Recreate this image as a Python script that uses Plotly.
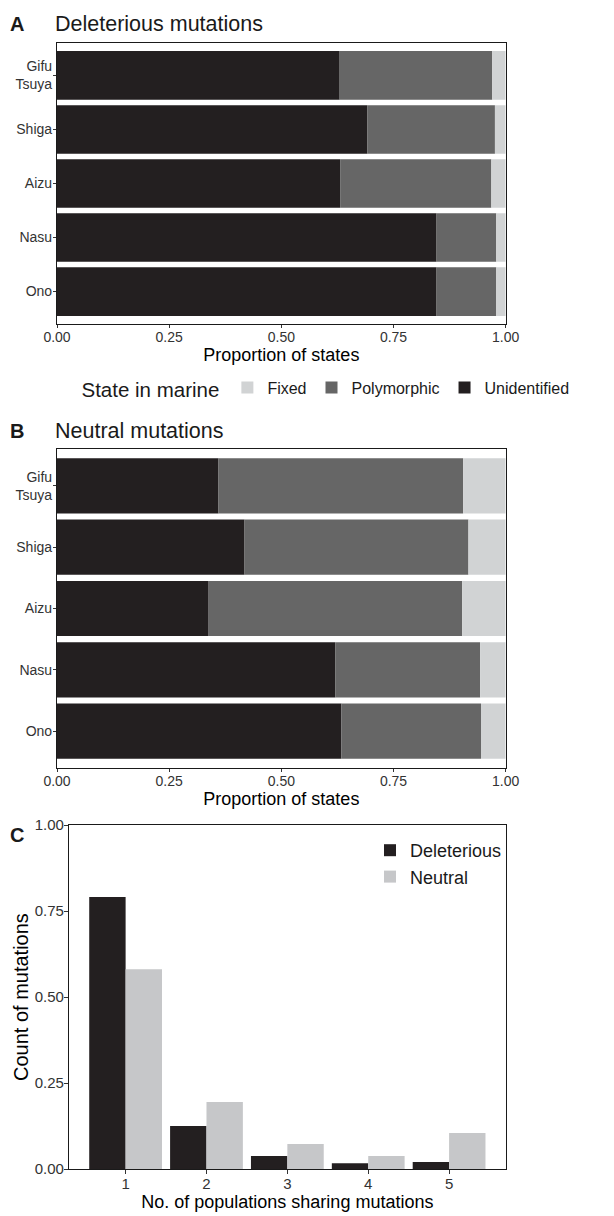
import numpy as np
import plotly.graph_objects as go

# Populations (top to bottom) and the state of each derived allele in the marine population
populations = ["Gifu<br>Tsuya", "Shiga", "Aizu", "Nasu", "Ono"]
states = ["Unidentified", "Polymorphic", "Fixed"]

# Proportion of deleterious mutations by state in marine
del_unidentified = [0.630, 0.692, 0.631, 0.846, 0.846]
del_polymorphic = [0.340, 0.284, 0.337, 0.133, 0.133]
del_fixed = [0.030, 0.024, 0.032, 0.021, 0.021]

# Proportion of neutral mutations by state in marine
neu_unidentified = [0.360, 0.418, 0.338, 0.620, 0.634]
neu_polymorphic = [0.545, 0.499, 0.565, 0.323, 0.311]
neu_fixed = [0.095, 0.083, 0.097, 0.057, 0.055]

# Sharing of mutations among populations
n_sharing = [1, 2, 3, 4, 5]
share_deleterious = [0.791, 0.125, 0.038, 0.017, 0.020]
share_neutral = [0.581, 0.195, 0.073, 0.038, 0.105]

prop_ticks = [0, 0.25, 0.5, 0.75, 1.0]
prop_ticktext = ["0.00", "0.25", "0.50", "0.75", "1.00"]

COL = {"Unidentified": "#231F20", "Polymorphic": "#666666", "Fixed": "#D1D3D4"}
NEUTRAL_COL = "#C6C7C9"
FONT = "Liberation Sans, Arial, sans-serif"
W, H = 614, 1216

fig = go.Figure()


def add_stacked(xaxis, yaxis, unident, poly, fixed, show_legend):
    vals = {"Unidentified": np.array(unident), "Polymorphic": np.array(poly),
            "Fixed": np.array(fixed)}
    base = np.zeros(len(populations))
    ranks = {"Fixed": 1, "Polymorphic": 2, "Unidentified": 3}
    for s in states:
        fig.add_trace(go.Bar(
            y=populations, x=vals[s], base=base.copy(), orientation="h",
            width=0.9, name=s, marker=dict(color=COL[s], line=dict(width=0)),
            xaxis=xaxis, yaxis=yaxis, showlegend=show_legend,
            legend="legend", legendrank=ranks[s], hoverinfo="skip"))
        base = base + vals[s]


add_stacked("x", "y", del_unidentified, del_polymorphic, del_fixed, True)
add_stacked("x2", "y2", neu_unidentified, neu_polymorphic, neu_fixed, False)

fig.add_trace(go.Bar(x=n_sharing, y=share_deleterious, name="Deleterious",
                     offset=-0.45, width=0.45, marker=dict(color=COL["Unidentified"], line=dict(width=0)),
                     xaxis="x3", yaxis="y3", legend="legend2", hoverinfo="skip"))
fig.add_trace(go.Bar(x=n_sharing, y=share_neutral, name="Neutral",
                     offset=0.0, width=0.45, marker=dict(color=NEUTRAL_COL, line=dict(width=0)),
                     xaxis="x3", yaxis="y3", legend="legend2", hoverinfo="skip"))

box = dict(showline=True, mirror=True, linecolor="#1a1a1a", linewidth=1.2,
           ticks="outside", ticklen=3, tickwidth=1, tickcolor="#333333",
           tickfont=dict(size=14, color="#333333", family=FONT), ticklabelstandoff=-3,
           showgrid=False, zeroline=False, automargin=False)
ybox = {**box, "ticklabelstandoff": -2}
box15 = {**box, "tickfont": dict(size=15, color="#333333", family=FONT), "ticklen": 4}


def py(px):
    return 1 - px / H


def px_x(px):
    return px / W


xA = [px_x(57), px_x(505.7)]
xC = [px_x(69), px_x(505.7)]

fig.update_layout(
    template="none",
    width=W, height=H, margin=dict(l=0, r=0, t=0, b=0, pad=0, autoexpand=False),
    paper_bgcolor="white", plot_bgcolor="white",
    barmode="overlay", font=dict(family=FONT, color="#000000"),
    xaxis=dict(domain=xA, anchor="y", range=[0, 1], tickvals=prop_ticks, ticktext=prop_ticktext,
               title=dict(text="Proportion of states", font=dict(size=18), standoff=2), **box),
    yaxis=dict(domain=[py(324), py(43)], anchor="x", type="category",
               categoryorder="array", categoryarray=populations, range=[4.6, -0.6], **ybox),
    xaxis2=dict(domain=xA, anchor="y2", range=[0, 1], tickvals=prop_ticks, ticktext=prop_ticktext,
                title=dict(text="Proportion of states", font=dict(size=18), standoff=2), **box),
    yaxis2=dict(domain=[py(768), py(449)], anchor="x2", type="category",
                categoryorder="array", categoryarray=populations, range=[4.6, -0.6], **ybox),
    xaxis3=dict(domain=xC, anchor="y3", range=[0.3, 5.7], tickvals=n_sharing,
                title=dict(text="No. of populations sharing mutations", font=dict(size=18), standoff=2),
                **box15),
    yaxis3=dict(domain=[py(1169), py(825)], anchor="x3", range=[0, 1], tickvals=prop_ticks,
                ticktext=prop_ticktext, **box15),
    legend=dict(orientation="h", x=px_x(327), xanchor="center", y=py(389), yanchor="middle",
                title=dict(text="State in marine", font=dict(size=20.5), side="left"),
                font=dict(size=16, color="#1a1a1a"), bgcolor="rgba(0,0,0,0)",
                traceorder="normal", itemclick=False),
    legend2=dict(x=px_x(370), xanchor="left", y=py(832), yanchor="top",
                 font=dict(size=18, color="#1a1a1a"), bgcolor="rgba(0,0,0,0)",
                 tracegroupgap=0, itemclick=False),
)

# y-axis title of panel C, set close to its tick labels
fig.add_annotation(text="Count of mutations", textangle=-90, x=px_x(21), y=py(997),
                   xref="paper", yref="paper", xanchor="center", yanchor="middle",
                   showarrow=False, font=dict(size=20, family=FONT, color="#000000"))

# Panel letters and panel titles
for letter, title, ymid in [("A", "Deleterious mutations", 24), ("B", "Neutral mutations", 430.5),
                            ("C", None, 835)]:
    fig.add_annotation(text=f"<b>{letter}</b>", x=px_x(8), y=py(ymid), xref="paper", yref="paper",
                       xanchor="left", yanchor="middle", showarrow=False,
                       font=dict(size=20, family=FONT, color="#1a1a1a"))
    if title:
        fig.add_annotation(text=title, x=px_x(53), y=py(ymid), xref="paper", yref="paper",
                           xanchor="left", yanchor="middle", showarrow=False,
                           font=dict(size=21.5, family=FONT, color="#1a1a1a"))

fig.write_html("out.html")
